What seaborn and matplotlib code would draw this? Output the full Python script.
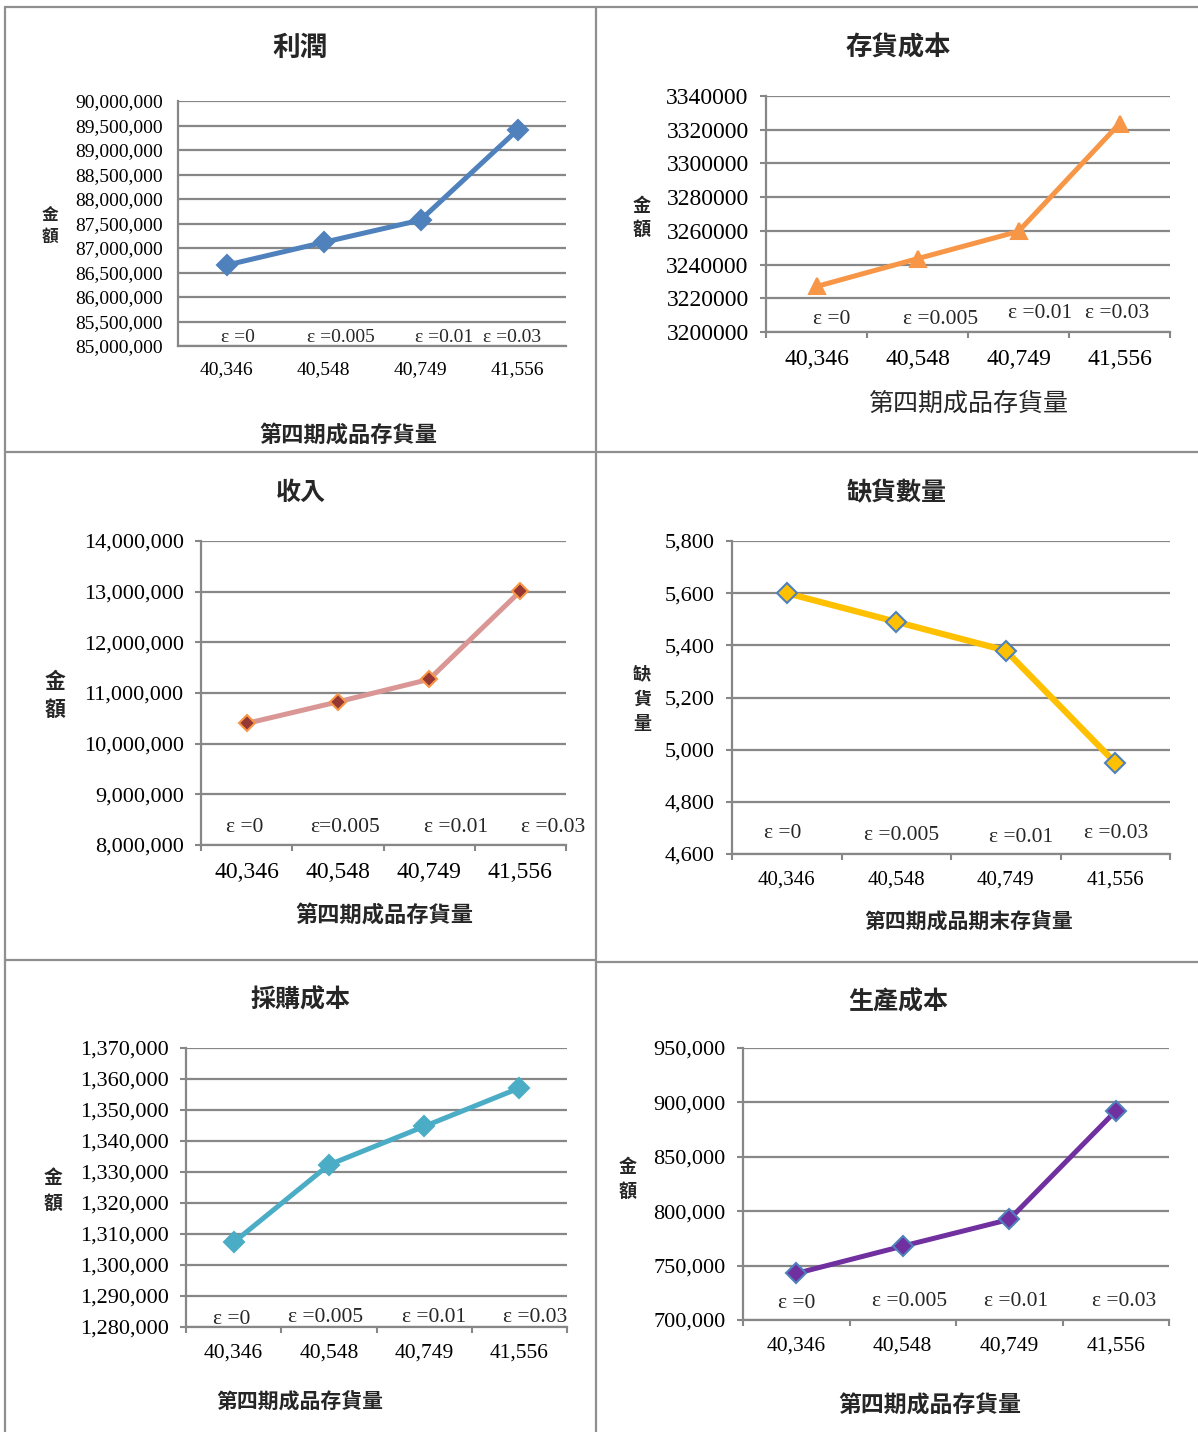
import numpy as np
import matplotlib.pyplot as plt
from matplotlib.lines import Line2D
from matplotlib.ticker import FuncFormatter, MultipleLocator
from matplotlib.transforms import blended_transform_factory
import seaborn as sns

# x categories (第四期成品存貨量) and the epsilon labels
stock = ["40,346", "40,548", "40,749", "41,556"]
eps = ["ε =0", "ε =0.005", "ε =0.01", "ε =0.03"]
eps_rev = ["ε =0", "ε=0.005", "ε =0.01", "ε =0.03"]

# series
profit = [86_650_000, 87_115_000, 87_570_000, 89_410_000]
inventory_cost = [3_227_000, 3_243_500, 3_259_700, 3_323_600]
revenue = [10_400_000, 10_825_000, 11_270_000, 13_010_000]
shortage = [5600, 5490, 5380, 4950]
purchase_cost = [1_307_300, 1_332_300, 1_344_700, 1_357_100]
production_cost = [742_800, 767_900, 792_400, 892_100]

sns.set_theme(style="white")
plt.rcParams['font.family'] = ['Liberation Serif', 'Noto Sans CJK TC', 'DejaVu Sans']

W, H = 1198, 1432
fig = plt.figure(figsize=(W / 100, H / 100), dpi=100)
GRAY = "#878787"

# cell borders
def border(x0, y0, x1, y1):
    fig.add_artist(Line2D([x0 / W, x1 / W], [1 - y0 / H, 1 - y1 / H],
                          color="#8f8f8f", lw=1.6, transform=fig.transFigure))

border(5, 7, 1198, 7)
border(5, 7, 5, 1432)
border(596, 7, 596, 1432)
border(5, 452, 1198, 452)
border(5, 960, 596, 960)
border(596, 962, 1198, 962)

panels = [
    dict(box=(178, 101, 566, 346), y=profit, ylim=(85_000_000, 90_000_000), step=500_000,
         color="#4F81BD", marker="D", ms=10, mfc="#4F81BD", mec="#4F81BD", lw=3.6,
         title="利潤", title_xy=(300, 58), title_size=20,
         xlabel="第四期成品存貨量", xlabel_xy=(348, 436), xlabel_size=16, xlabel_weight="bold",
         ylabel="金\n額", ylabel_xy=(50, 227), ylabel_size=12, ylabel_ls=1.5,
         ytick_size=14, xtick_size=14, ticks=False, comma=True,
         eps=eps, eps_off=[0.12, 0.18, 0.24, -0.06], eps_y=[337] * 4, eps_size=14),
    dict(box=(766, 96, 1170, 332), y=inventory_cost, ylim=(3_200_000, 3_340_000), step=20_000,
         color="#F79646", marker="^", ms=11, mfc="#F79646", mec="#F79646", lw=3.6,
         title="存貨成本", title_xy=(898, 56), title_size=19,
         xlabel="第四期成品存貨量", xlabel_xy=(969, 404), xlabel_size=18, xlabel_weight="normal",
         ylabel="金\n額", ylabel_xy=(642, 218), ylabel_size=13, ylabel_ls=1.45,
         ytick_size=17, xtick_size=17, ticks=True, comma=False,
         eps=eps, eps_off=[0.15, 0.23, 0.21, -0.02], eps_y=[320, 319, 314, 313], eps_size=15.5),
    dict(box=(201, 541, 566, 845), y=revenue, ylim=(8_000_000, 14_000_000), step=1_000_000,
         color="#D99694", marker="D", ms=8.5, mfc="#953735", mec="#F79646", lw=3.6,
         title="收入", title_xy=(301, 501), title_size=18,
         xlabel="第四期成品存貨量", xlabel_xy=(384, 916), xlabel_size=16, xlabel_weight="bold",
         ylabel="金\n額", ylabel_xy=(55, 697), ylabel_size=15, ylabel_ls=1.5,
         ytick_size=16, xtick_size=17, ticks=True, comma=True,
         eps=eps_rev, eps_off=[-0.02, 0.08, 0.3, 0.36], eps_y=[827] * 4, eps_size=15.5),
    dict(box=(732, 541, 1170, 854), y=shortage, ylim=(4600, 5800), step=200,
         color="#FFC000", marker="D", ms=10, mfc="#FFC000", mec="#4F81BD", lw=4.5,
         title="缺貨數量", title_xy=(897, 501), title_size=18,
         xlabel="第四期成品期末存貨量", xlabel_xy=(969, 923), xlabel_size=15, xlabel_weight="bold",
         ylabel="缺\n貨\n量", ylabel_xy=(642, 700), ylabel_size=13, ylabel_ls=1.6,
         ytick_size=16, xtick_size=15, ticks=True, comma=True,
         eps=eps, eps_off=[-0.04, 0.05, 0.14, 0.01], eps_y=[833, 836, 837, 834], eps_size=15.5),
    dict(box=(186, 1048, 567, 1327), y=purchase_cost, ylim=(1_280_000, 1_370_000), step=10_000,
         color="#4BACC6", marker="D", ms=10, mfc="#4BACC6", mec="#4BACC6", lw=3.6,
         title="採購成本", title_xy=(301, 1009), title_size=18,
         xlabel="第四期成品存貨量", xlabel_xy=(300, 1403), xlabel_size=15, xlabel_weight="bold",
         ylabel="金\n額", ylabel_xy=(53, 1191), ylabel_size=13.5, ylabel_ls=1.55,
         ytick_size=16, xtick_size=15.5, ticks=True, comma=True,
         eps=eps, eps_off=[-0.02, -0.04, 0.1, 0.17], eps_y=[1320, 1318, 1318, 1318], eps_size=15.5),
    dict(box=(743, 1048, 1169, 1320), y=production_cost, ylim=(700_000, 950_000), step=50_000,
         color="#7030A0", marker="D", ms=10, mfc="#7030A0", mec="#4F81BD", lw=3.6,
         title="生產成本", title_xy=(898, 1011), title_size=18,
         xlabel="第四期成品存貨量", xlabel_xy=(930, 1406), xlabel_size=16.5, xlabel_weight="bold",
         ylabel="金\n額", ylabel_xy=(628, 1180), ylabel_size=13, ylabel_ls=1.5,
         ytick_size=16, xtick_size=15.5, ticks=True, comma=True,
         eps=eps, eps_off=[0.0, 0.06, 0.06, 0.08], eps_y=[1304, 1302, 1302, 1301], eps_size=15.5),
]

pos = np.arange(len(stock))

for p in panels:
    l, t, r, b = p["box"]
    ax = fig.add_axes([l / W, 1 - b / H, (r - l) / W, (b - t) / H])

    def fx(x):
        return (x - l) / (r - l)

    def fy(y):
        return (b - y) / (b - t)

    sns.lineplot(x=pos, y=p["y"], ax=ax, color=p["color"], lw=p["lw"],
                 marker=p["marker"], markersize=p["ms"], markerfacecolor=p["mfc"],
                 markeredgecolor=p["mec"], markeredgewidth=1.5, zorder=5)

    ax.set_xlim(-0.5, len(stock) - 0.5)
    ax.set_ylim(*p["ylim"])
    ax.yaxis.set_major_locator(MultipleLocator(p["step"]))
    if p["comma"]:
        ax.yaxis.set_major_formatter(FuncFormatter(lambda v, _: f"{v:,.0f}"))
    else:
        ax.yaxis.set_major_formatter(FuncFormatter(lambda v, _: f"{v:.0f}"))
    ax.set_xticks(pos, stock)
    ax.grid(axis="y", color=GRAY, lw=1.6)
    ax.set_axisbelow(True)
    for s in ["top", "right"]:
        ax.spines[s].set_visible(False)
    for s in ["left", "bottom"]:
        ax.spines[s].set_color(GRAY)
        ax.spines[s].set_linewidth(1.6)

    if p["ticks"]:
        ax.set_xticks(np.arange(-0.5, len(stock)), minor=True)
        ax.tick_params(axis="x", which="minor", bottom=True, length=4.5, width=1.5,
                       color=GRAY, direction="out")
        ax.tick_params(axis="y", left=True, length=4.5, width=1.5, color=GRAY,
                       direction="out", pad=8)
        ax.tick_params(axis="x", which="major", length=0, pad=12)
    else:
        ax.tick_params(axis="y", length=0, pad=11)
        ax.tick_params(axis="x", length=0, pad=11)
    ax.tick_params(axis="y", labelsize=p["ytick_size"], labelcolor="black")
    ax.tick_params(axis="x", labelsize=p["xtick_size"], labelcolor="black")

    ax.set_title(p["title"], fontsize=p["title_size"], fontweight="bold",
                 x=fx(p["title_xy"][0]), y=fy(p["title_xy"][1]), va="center")
    ax.set_xlabel(p["xlabel"], fontsize=p["xlabel_size"], fontweight=p["xlabel_weight"])
    ax.xaxis.set_label_coords(fx(p["xlabel_xy"][0]), fy(p["xlabel_xy"][1]))
    ax.xaxis.label.set_va("center")
    ax.set_ylabel(p["ylabel"], fontsize=p["ylabel_size"], fontweight="bold",
                  rotation=0, linespacing=p["ylabel_ls"], va="center", ha="center")
    ax.yaxis.set_label_coords(fx(p["ylabel_xy"][0]), fy(p["ylabel_xy"][1]))

    trans = blended_transform_factory(ax.transData, ax.transAxes)
    for i, (txt, off, ypx) in enumerate(zip(p["eps"], p["eps_off"], p["eps_y"])):
        ax.text(i + off, fy(ypx), txt, transform=trans, ha="center", va="center",
                fontsize=p["eps_size"], clip_on=False)

fig.savefig("out.png", dpi=100, facecolor="white")
